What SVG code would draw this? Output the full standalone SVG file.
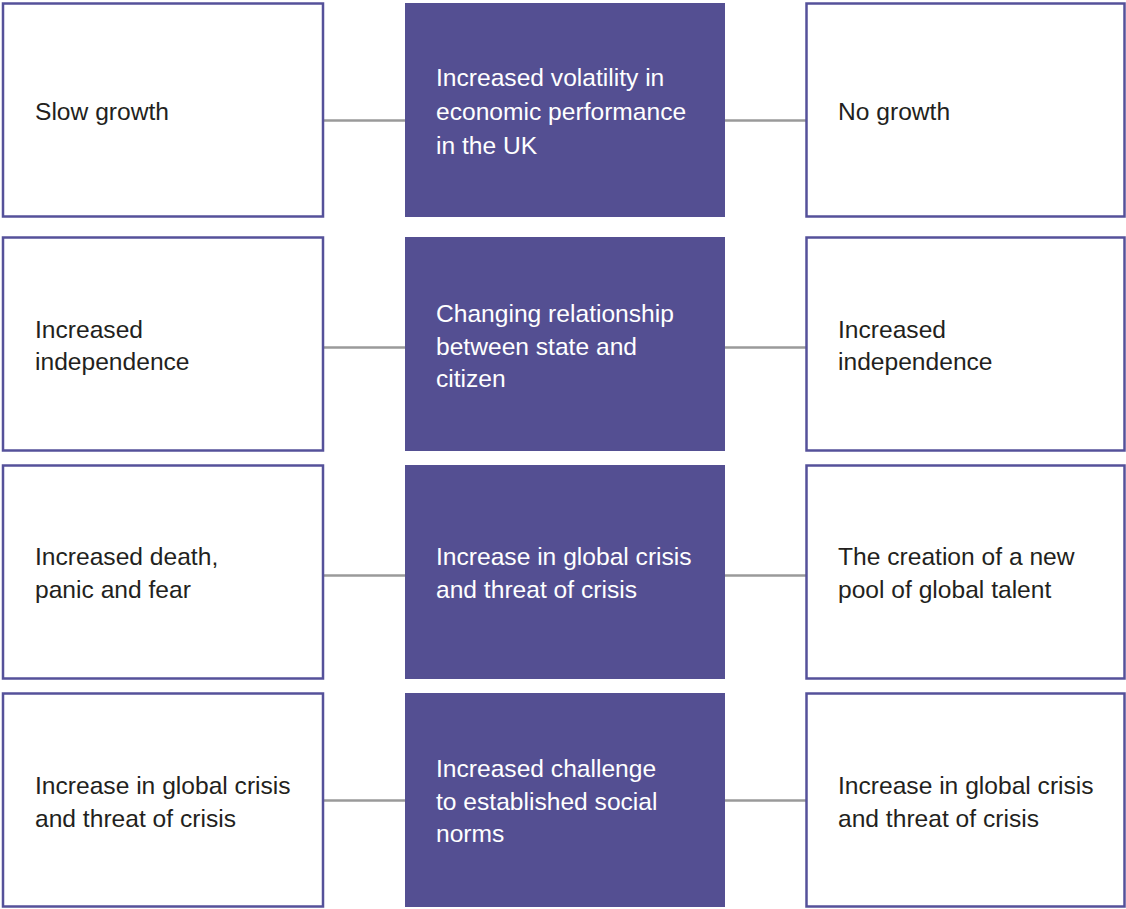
<svg xmlns="http://www.w3.org/2000/svg" width="1126" height="909" viewBox="0 0 1126 909">
<style>
.side{fill:#fff;stroke:#55519a;stroke-width:2.5}
.mid{fill:#544f92}
.conn{stroke:#9a9a9a;stroke-width:2.5;fill:none}
text{font-family:"Liberation Sans",Arial,sans-serif;font-size:24.6px}
.dark{fill:#231f20}
.light{fill:#fff}
</style>
<rect width="1126" height="909" fill="#fff"/>
<g id="connectors">
<line class="conn" x1="323" y1="120.5" x2="405" y2="120.5"/>
<line class="conn" x1="725" y1="120.5" x2="806" y2="120.5"/>
<line class="conn" x1="323" y1="347.5" x2="405" y2="347.5"/>
<line class="conn" x1="725" y1="347.5" x2="806" y2="347.5"/>
<line class="conn" x1="323" y1="575.5" x2="405" y2="575.5"/>
<line class="conn" x1="725" y1="575.5" x2="806" y2="575.5"/>
<line class="conn" x1="323" y1="800.5" x2="405" y2="800.5"/>
<line class="conn" x1="725" y1="800.5" x2="806" y2="800.5"/>
</g>
<g id="r1-left"><rect class="side" x="3" y="3.5" width="320" height="213"/>
<text class="dark" x="35" y="120">Slow growth</text></g>
<g id="r1-mid"><rect class="mid" x="405" y="3" width="320" height="214"/>
<text class="light" x="436" y="86">Increased volatility in</text>
<text class="light" x="436" y="120">economic performance</text>
<text class="light" x="436" y="154">in the UK</text></g>
<g id="r1-right"><rect class="side" x="806.5" y="3.5" width="318" height="213"/>
<text class="dark" x="838" y="120">No growth</text></g>

<g id="r2-left"><rect class="side" x="3" y="237.5" width="320" height="213"/>
<text class="dark" x="35" y="338">Increased</text>
<text class="dark" x="35" y="370">independence</text></g>
<g id="r2-mid"><rect class="mid" x="405" y="237" width="320" height="214"/>
<text class="light" x="436" y="322">Changing relationship</text>
<text class="light" x="436" y="355">between state and</text>
<text class="light" x="436" y="387">citizen</text></g>
<g id="r2-right"><rect class="side" x="806.5" y="237.5" width="318" height="213"/>
<text class="dark" x="838" y="338">Increased</text>
<text class="dark" x="838" y="370">independence</text></g>

<g id="r3-left"><rect class="side" x="3" y="465.5" width="320" height="213"/>
<text class="dark" x="35" y="565">Increased death,</text>
<text class="dark" x="35" y="598">panic and fear</text></g>
<g id="r3-mid"><rect class="mid" x="405" y="465" width="320" height="214"/>
<text class="light" x="436" y="565">Increase in global crisis</text>
<text class="light" x="436" y="598">and threat of crisis</text></g>
<g id="r3-right"><rect class="side" x="806.5" y="465.5" width="318" height="213"/>
<text class="dark" x="838" y="565">The creation of a new</text>
<text class="dark" x="838" y="598">pool of global talent</text></g>

<g id="r4-left"><rect class="side" x="3" y="693.5" width="320" height="213"/>
<text class="dark" x="35" y="794">Increase in global crisis</text>
<text class="dark" x="35" y="827">and threat of crisis</text></g>
<g id="r4-mid"><rect class="mid" x="405" y="693" width="320" height="214"/>
<text class="light" x="436" y="777">Increased challenge</text>
<text class="light" x="436" y="810">to established social</text>
<text class="light" x="436" y="842">norms</text></g>
<g id="r4-right"><rect class="side" x="806.5" y="693.5" width="318" height="213"/>
<text class="dark" x="838" y="794">Increase in global crisis</text>
<text class="dark" x="838" y="827">and threat of crisis</text></g>
</svg>
